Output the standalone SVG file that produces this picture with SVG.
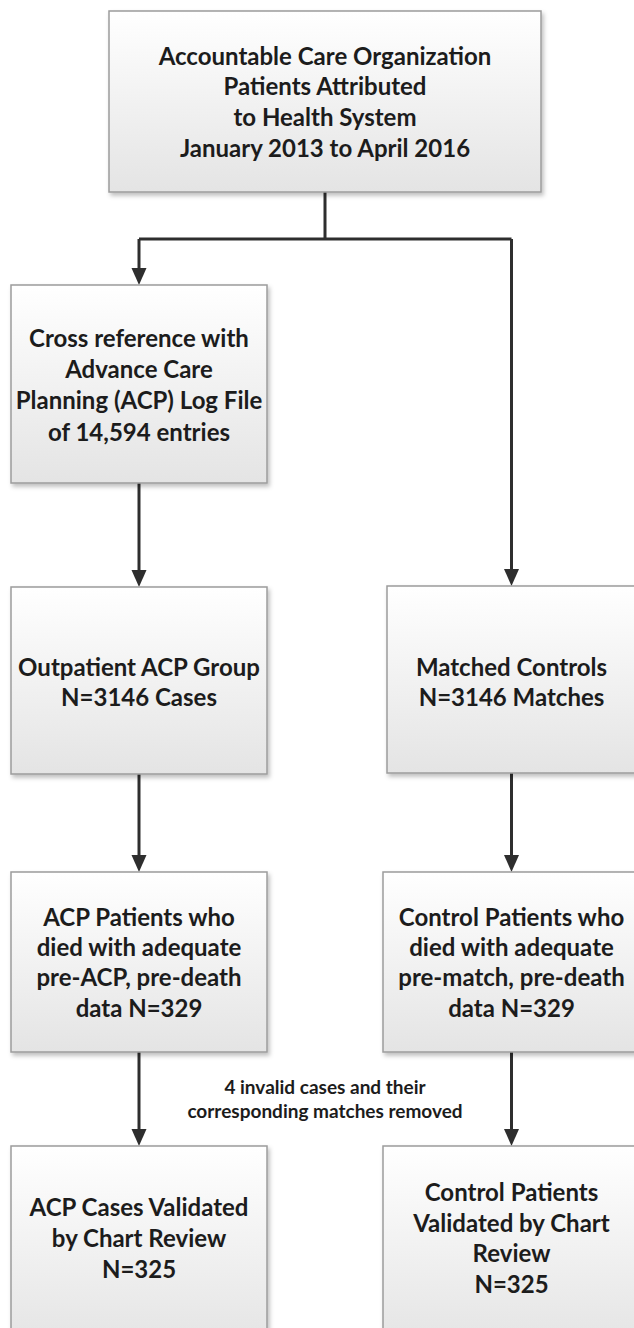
<svg xmlns="http://www.w3.org/2000/svg" width="634" height="1328" viewBox="0 0 634 1328">
<style>
.box{fill:url(#g);stroke:#9c9c9c;stroke-width:1.5;filter:url(#sh)}
.t{font-family:Lato,"Open Sans","Liberation Sans",sans-serif;font-weight:bold;font-size:24px;fill:#1c1c1c;text-anchor:middle}
.s{font-size:19px}
.c{fill:none;stroke:#2e2e2e;stroke-width:3}
.a{fill:#2e2e2e}
</style>
<defs>
<linearGradient id="g" x1="0" y1="0" x2="0" y2="1">
<stop offset="0" stop-color="#ffffff"/>
<stop offset="1" stop-color="#e4e4e4"/>
</linearGradient>
<filter id="sh" x="-10%" y="-10%" width="130%" height="130%">
<feDropShadow dx="2" dy="3" stdDeviation="2" flood-color="#000" flood-opacity="0.25"/>
</filter>
</defs>
<rect width="634" height="1328" fill="#ffffff"/>
<g id="connectors">
<path class="c" d="M325,192 V239 M139,239 H511.5"/>
<path class="c" d="M139,239 V268"/>
<path class="a" d="M131.5,268 H146.5 L139,285 Z"/>
<path class="c" d="M511.5,239 V569"/>
<path class="a" d="M504,569 H519 L511.5,586 Z"/>
<path class="c" d="M139,483 V570"/>
<path class="a" d="M131.5,570 H146.5 L139,587 Z"/>
<path class="c" d="M139,774 V855"/>
<path class="a" d="M131.5,855 H146.5 L139,872 Z"/>
<path class="c" d="M511.5,773 V855"/>
<path class="a" d="M504,855 H519 L511.5,872 Z"/>
<path class="c" d="M139,1052 V1129"/>
<path class="a" d="M131.5,1129 H146.5 L139,1146 Z"/>
<path class="c" d="M511.5,1052 V1129"/>
<path class="a" d="M504,1129 H519 L511.5,1146 Z"/>
<text class="t s" x="325" y="1093.5">4 invalid cases and their</text>
<text class="t s" x="325" y="1117.5">corresponding matches removed</text>
</g>
<g id="n1">
<rect class="box" x="109" y="11" width="432" height="181"/>
<text class="t" x="325" y="64.5">Accountable Care Organization</text>
<text class="t" x="325" y="94.5">Patients Attributed</text>
<text class="t" x="325" y="125.5"> to Health System</text>
<text class="t" x="325" y="156.5">January 2013 to April 2016</text>
</g>
<g id="n2">
<rect class="box" x="11" y="285" width="256" height="198"/>
<text class="t" x="139" y="346.5">Cross reference with</text>
<text class="t" x="139" y="377.5">Advance Care</text>
<text class="t" x="139" y="408.5">Planning (ACP) Log File</text>
<text class="t" x="139" y="440.5">of 14,594 entries</text>
</g>
<g id="n3">
<rect class="box" x="11" y="587" width="256" height="187"/>
<text class="t" x="139" y="675.5">Outpatient ACP Group</text>
<text class="t" x="139" y="705.5">N=3146 Cases</text>
</g>
<g id="n4">
<rect class="box" x="387" y="586" width="256" height="187"/>
<text class="t" x="511.5" y="675.5">Matched Controls</text>
<text class="t" x="511.5" y="705.5">N=3146 Matches</text>
</g>
<g id="n5">
<rect class="box" x="11" y="872" width="256" height="180"/>
<text class="t" x="139" y="925.5">ACP Patients who</text>
<text class="t" x="139" y="955.5">died with adequate</text>
<text class="t" x="139" y="986">pre-ACP, pre-death</text>
<text class="t" x="139" y="1016.5">data N=329</text>
</g>
<g id="n6">
<rect class="box" x="383" y="872" width="260" height="180"/>
<text class="t" x="511.5" y="925.5">Control Patients who</text>
<text class="t" x="511.5" y="955.5">died with adequate</text>
<text class="t" x="511.5" y="986">pre-match, pre-death</text>
<text class="t" x="511.5" y="1016.5">data N=329</text>
</g>
<g id="n7">
<rect class="box" x="11" y="1146" width="256" height="200"/>
<text class="t" x="139" y="1215.5">ACP Cases Validated</text>
<text class="t" x="139" y="1246.5">by Chart Review</text>
<text class="t" x="139" y="1277.5">N=325</text>
</g>
<g id="n8">
<rect class="box" x="383" y="1146" width="260" height="200"/>
<text class="t" x="511.5" y="1200.5">Control Patients</text>
<text class="t" x="511.5" y="1231.5">Validated by Chart</text>
<text class="t" x="511.5" y="1261.5">Review</text>
<text class="t" x="511.5" y="1292.5">N=325</text>
</g>
</svg>
